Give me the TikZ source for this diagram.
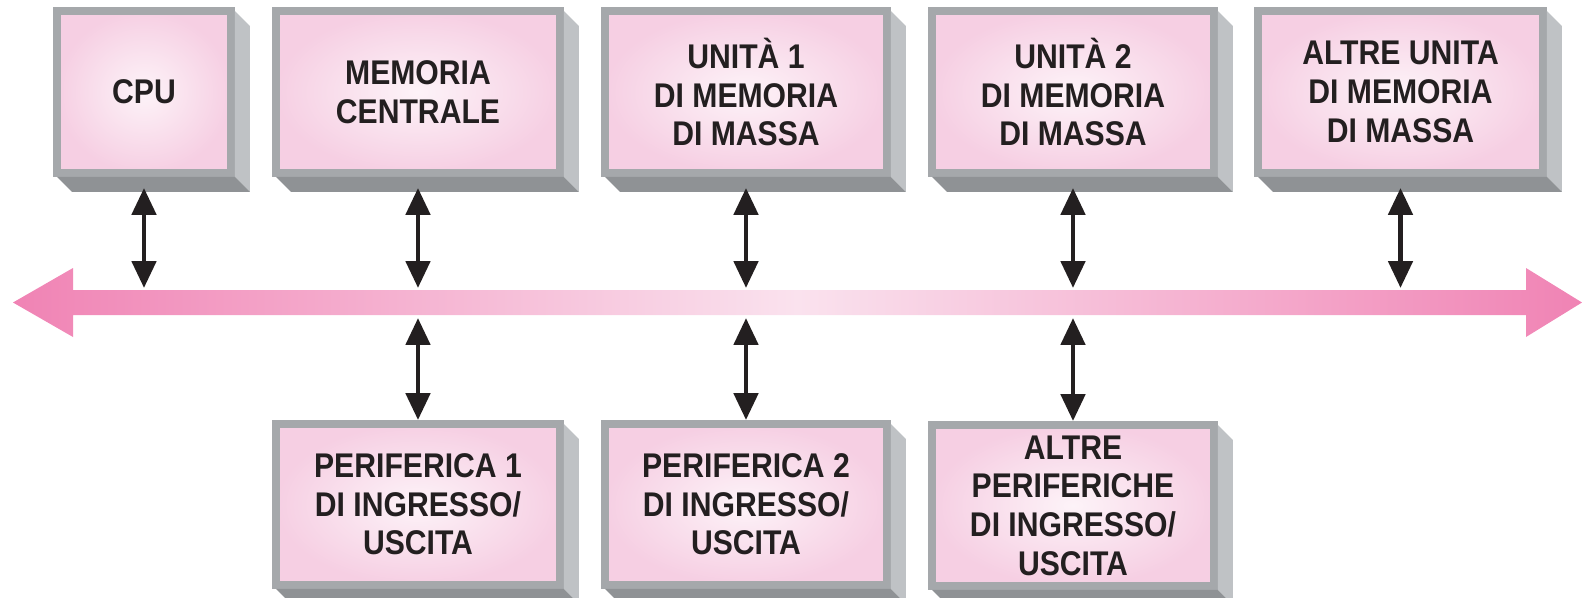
\documentclass[tikz,border=0pt]{standalone}
\usepackage{fontspec}
\newfontfamily\boxfont[FakeStretch=0.88]{Liberation Sans}
\usetikzlibrary{arrows.meta,calc}
\definecolor{framegray}{HTML}{A5A8AB}
\definecolor{sidelight}{HTML}{BFC2C5}
\definecolor{sidedark}{HTML}{8F9295}
\definecolor{pinkin}{HTML}{FDF3F8}
\definecolor{pinkout}{HTML}{F6CFE3}
\definecolor{busend}{HTML}{F083B4}
\definecolor{busmid}{HTML}{FAE2EE}
\definecolor{ink}{HTML}{231F20}
\begin{document}
\begin{tikzpicture}[x=0.02cm,y=-0.02cm,
  unitbox/.style={draw=framegray, line width=4.5pt, inner color=pinkin, outer color=pinkout,
    align=center, text=ink, inner sep=0pt,
    font=\boxfont\bfseries\fontsize{19.5}{22}\selectfont},
  topbox/.style={unitbox, minimum height=3.24cm},
  botbox/.style={unitbox, minimum height=3.22cm},
  biarrow/.style={{Triangle[width=13.6pt,length=15.3pt]}-{Triangle[width=13.6pt,length=15.3pt]},
    line width=2.8pt, draw=ink},
  rface/.style={fill=sidelight},
  bface/.style={fill=sidedark}]
\useasboundingbox (0,0) rectangle (1583,598);

% bus
\shade[left color=busend, right color=busend, middle color=busmid]
  (13,302.5) -- (73,268) -- (73,290) -- (1526,290) -- (1526,268) -- (1582,302.5)
  -- (1526,337) -- (1526,315) -- (73,315) -- (73,337) -- cycle;

% boxes
\node[topbox, minimum width=3.48cm] (cpu) at (144,92) {CPU};
\node[topbox, minimum width=5.68cm] (mem) at (418,92) {MEMORIA\\CENTRALE};
\node[topbox, minimum width=5.64cm] (u1) at (746,92) {UNITÀ 1\\DI MEMORIA\\DI MASSA};
\node[topbox, minimum width=5.64cm] (u2) at (1073,92) {UNITÀ 2\\DI MEMORIA\\DI MASSA};
\node[topbox, minimum width=5.70cm] (u3) at (1400.5,92) {ALTRE UNITA\\DI MEMORIA\\DI MASSA};
\node[botbox, minimum width=5.68cm] (p1) at (418,504.5) {PERIFERICA 1\\DI INGRESSO/\\USCITA};
\node[botbox, minimum width=5.64cm] (p2) at (746,504.5) {PERIFERICA 2\\DI INGRESSO/\\USCITA};
\node[botbox, minimum width=5.64cm] (p3) at (1073,505.5) {ALTRE\\PERIFERICHE\\DI INGRESSO/\\USCITA};

% 3D faces
\foreach \n in {cpu,mem,u1,u2,u3,p1,p2,p3}{
  \fill[rface] ($(\n.north east)+(0,4)$) -- ++(15,15) -- ($(\n.south east)+(15,15)$)
    -- (\n.south east) -- cycle;
  \fill[bface] ($(\n.south west)+(4,0)$) -- (\n.south east) -- ($(\n.south east)+(15,15)$)
    -- ($(\n.south west)+(19,15)$) -- cycle;
}

% bus attachment points
\coordinate (t1) at (144,288);
\coordinate (t2) at (418,288);
\coordinate (t3) at (746,288);
\coordinate (t4) at (1073,288);
\coordinate (t5) at (1400.5,288);
\coordinate (d1) at (418,318);
\coordinate (d2) at (746,318);
\coordinate (d3) at (1073,318);

% connectors
\draw[biarrow] ($(cpu.south)+(0,11)$) -- (t1);
\draw[biarrow] ($(mem.south)+(0,11)$) -- (t2);
\draw[biarrow] ($(u1.south)+(0,11)$) -- (t3);
\draw[biarrow] ($(u2.south)+(0,11)$) -- (t4);
\draw[biarrow] ($(u3.south)+(0,11)$) -- (t5);
\draw[biarrow] (d1) -- (p1.north);
\draw[biarrow] (d2) -- (p2.north);
\draw[biarrow] (d3) -- (p3.north);
\end{tikzpicture}
\end{document}
